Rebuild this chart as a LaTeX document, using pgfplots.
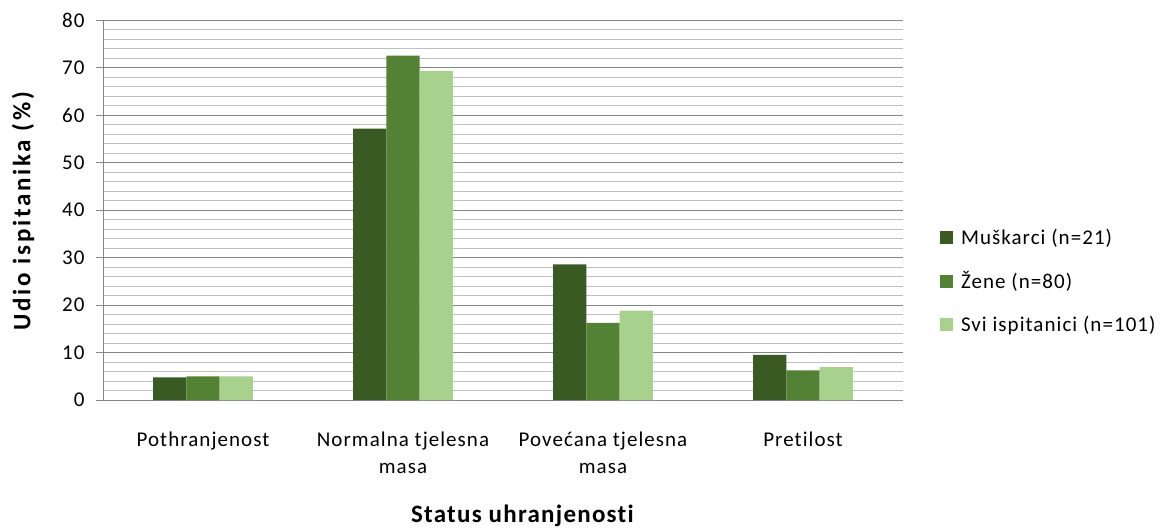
\documentclass[border=0pt]{standalone}
\usepackage{pgfplots}
\pgfplotsset{compat=1.18}
\usepackage{fontspec}
\setmainfont{Carlito}[LetterSpace=5, Ligatures=CommonOff]
\definecolor{cM}{HTML}{3A5A23}
\definecolor{cZ}{HTML}{548235}
\definecolor{cS}{HTML}{A9D18E}
\definecolor{gmaj}{HTML}{868686}
\definecolor{gmin}{HTML}{BFBFBF}
\begin{document}
\begin{tikzpicture}
\useasboundingbox (0pt,0pt) rectangle (1161pt,530pt);
\begin{axis}[
  at={(103pt,130pt)}, anchor=south west,
  scale only axis, width=800pt, height=380pt,
  xmin=-0.5, xmax=3.5, ymin=0, ymax=80,
  ybar, bar width=33.3pt,
  xtick={0,1,2,3},
  xticklabels={Pothranjenost, {Normalna tjelesna\\masa}, {Povećana tjelesna\\masa}, Pretilost},
  xticklabel style={align=center, yshift=-21pt, text depth=0pt},
  ytick={0,10,...,80},
  minor y tick num=4,
  ymajorgrids, yminorgrids,
  major grid style={gmaj, line width=1pt},
  minor grid style={gmin, line width=1pt},
  axis x line*=bottom, axis y line*=left,
  axis line style={gmaj, line width=1pt, -},
  tick align=outside,
  major tick length=7pt, minor tick length=0pt,
  xtick style={draw=none},
  ytick style={gmaj, line width=1pt},
  tick label style={font=\fontsize{21}{27}\selectfont},
  /pgf/number format/assume math mode=true,
  yticklabel style={xshift=-8pt},
  ylabel={\textbf{\addfontfeature{LetterSpace=11}Udio ispitanika (\%)}},
  ylabel style={font=\fontsize{25}{30}\selectfont, at={(axis description cs:-0.1,0.5)}, anchor=center, rotate=0},
  xlabel={\textbf{Status uhranjenosti}},
  xlabel style={font=\fontsize{25}{30}\selectfont, at={(axis description cs:0.525,-0.305)}, anchor=center},
  legend image code/.code={\fill[#1] (0pt,-6.5pt) rectangle (13pt,6.5pt);},
  legend cell align=left,
  legend style={draw=none, fill=none, font=\fontsize{21}{25}\selectfont,
    at={(axis description cs:1.046,0.313)}, anchor=west, inner sep=0pt,
    row sep=22pt, /tikz/every odd column/.append style={column sep=6pt}},
]
\addplot[fill=cM, draw=none, bar shift=-33.3pt] coordinates {(0,4.76) (1,57.14) (2,28.57) (3,9.52)};
\addplot[fill=cZ, draw=none, bar shift=0pt] coordinates {(0,5.0) (1,72.5) (2,16.25) (3,6.25)};
\addplot[fill=cS, draw=none, bar shift=33.3pt] coordinates {(0,4.95) (1,69.31) (2,18.81) (3,6.93)};
\legend{Muškarci (n=21), Žene (n=80), Svi ispitanici (n=101)}
\end{axis}
\end{tikzpicture}
\end{document}
